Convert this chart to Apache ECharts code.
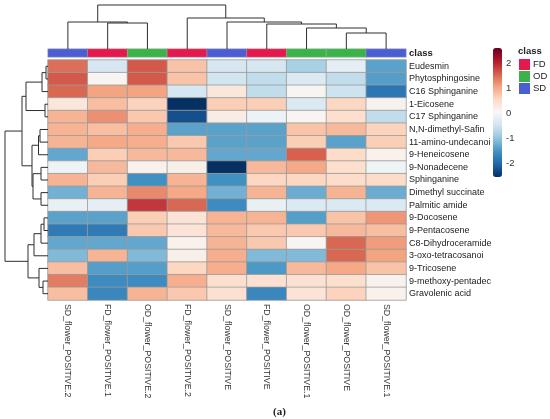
<!DOCTYPE html>
<html>
<head>
    <meta charset="utf-8"/>
    <title>Heatmap</title>
    <script src="https://cdn.jsdelivr.net/npm/echarts@6.0.0/dist/echarts.min.js"></script>
    <style>html, body { margin: 0; padding: 0; background: #fff; }</style>
</head>
<body>
<div id="main" style="width: 550px;height:419px;"></div>
<script type="text/javascript">
    // column samples, left to right (dendrogram order)
    var samples = ['SD_flower_POSITIVE.2', 'FD_flower_POSITIVE.1', 'OD_flower_POSITIVE.2', 'FD_flower_POSITIVE.2',
        'SD_flower_POSITIVE', 'FD_flower_POSITIVE', 'OD_flower_POSITIVE.1', 'OD_flower_POSITIVE', 'SD_flower_POSITIVE.1'];
    var sampleClass = ['SD', 'FD', 'OD', 'FD', 'SD', 'FD', 'OD', 'OD', 'SD'];
    var classNames = ['FD', 'OD', 'SD'];

    // metabolites, top to bottom
    var metabolites = ['Eudesmin', 'Phytosphingosine', 'C16 Sphinganine', '1-Eicosene', 'C17 Sphinganine',
        'N,N-dimethyl-Safin', '11-amino-undecanoi', '9-Heneicosene', '9-Nonadecene', 'Sphinganine',
        'Dimethyl succinate', 'Palmitic amide', '9-Docosene', '9-Pentacosene', 'C8-Dihydroceramide',
        '3-oxo-tetracosanoi', '9-Tricosene', '9-methoxy-pentadec', 'Gravolenic acid'];

    // scaled values per metabolite (one value per sample column)
    var vEudesmin        = [1.45, -0.45, 1.6, 0.75, -0.45, -0.45, -0.85, -0.25, -1.4];
    var vPhytosphingo    = [1.6, 0.05, 1.6, 0.75, -0.5, -0.65, -0.4, -0.65, -1.45];
    var vC16Sphinganine  = [1.5, 1.05, 1.05, -0.45, 0.3, -0.65, 0.05, -0.55, -1.9];
    var vEicosene        = [0.3, 0.8, 0.6, -2.6, 0.65, 0.65, -0.4, 0.55, 0.1];
    var vC17Sphinganine  = [0.9, 1.2, 0.7, -2.3, 0.2, -0.15, 0.05, 0.45, -0.65];
    var vDimethylSafin   = [0.9, 0.8, 0.95, -1.4, -1.4, -1.4, 0.75, 0.85, 0.6];
    var vAminoUndecanoi  = [0.9, 1.0, 0.95, 0.7, -1.4, -1.4, 0.65, -1.4, 0.65];
    var vHeneicosene     = [-1.35, 0.65, 0.85, 0.85, -1.35, -1.35, 1.55, 0.5, 0.12];
    var vNonadecene      = [-0.12, 0.85, 0.12, 0.15, -2.6, 0.85, 1.0, 0.45, -0.12];
    var vSphinganine     = [0.9, 0.65, -1.6, 0.9, -1.6, 0.55, 0.55, 0.5, 0.5];
    var vDimethylSucc    = [-1.25, 0.9, 1.25, 1.0, -1.25, 0.9, -1.3, 0.9, -1.3];
    var vPalmiticAmide   = [-0.2, -0.25, 1.85, 1.5, -1.65, -0.2, -0.4, -0.4, -0.4];
    var vDocosene        = [-1.4, -1.4, 0.65, 0.35, 0.9, 0.9, -1.45, 0.75, 1.15];
    var vPentacosene     = [-1.85, -1.85, 0.7, 0.35, 0.85, 0.7, 0.7, 0.85, 0.8];
    var vC8Dihydrocer    = [-1.35, -1.35, -1.35, 0.12, 0.9, 0.7, 0.05, 1.5, 1.1];
    var vOxoTetracosanoi = [-1.15, 0.9, -1.15, 0.15, 0.95, -1.15, -1.15, 1.5, 1.05];
    var vTricosene       = [0.8, -1.45, -1.45, 0.55, 0.95, -1.5, 0.85, 1.0, 0.75];
    var vMethoxyPentadec = [1.35, -1.65, -1.65, 0.95, 0.45, 0.4, 0.4, 0.45, 0.12];
    var vGravolenic      = [0.8, -1.7, 0.9, 0.7, 0.4, -1.7, 0.35, 0.6, 0.12];

    var rowValues = [vEudesmin, vPhytosphingo, vC16Sphinganine, vEicosene, vC17Sphinganine, vDimethylSafin,
        vAminoUndecanoi, vHeneicosene, vNonadecene, vSphinganine, vDimethylSucc, vPalmiticAmide, vDocosene,
        vPentacosene, vC8Dihydrocer, vOxoTetracosanoi, vTricosene, vMethoxyPentadec, vGravolenic];

    // hclust style merges: negative = leaf (1-based), positive = earlier merge; third = height
    var colMerges = [[-2, -3, 26], [-1, 1, 27], [-8, -9, 16], [-7, 3, 21], [-6, 4, 25], [-5, 5, 27], [-4, 6, 31], [2, 7, 44]];
    var rowMerges = [[-1, -2, 2], [1, -3, 6], [-4, -5, 3], [2, 3, 22], [-6, -7, 8], [5, -8, 9.5],
        [-9, -10, 7], [-11, -12, 7], [7, 8, 15], [6, 9, 16], [4, 10, 26],
        [-13, -14, 4], [12, -15, 7], [13, -16, 14], [-18, -19, 5], [-17, 15, 9], [14, 16, 20], [11, 17, 43]];

    // colour bar range
    var scaleMin = -2.6, scaleMax = 2.6;

    var classColors = {FD: '#E4194D', OD: '#3AB449', SD: '#4B5ED4'};
    var rdBu = ['#053061', '#2166ac', '#4393c3', '#92c5de', '#d1e5f0', '#f7f7f7',
        '#fddbc7', '#f4a582', '#d6604d', '#b2182b', '#67001f'];
    var FONT = "'Liberation Sans', Arial, sans-serif";

    function dendroLines(merges, swap) {
        var pos = [], hgt = [], out = [];
        function node(id) {
            return id < 0 ? {p: -id - 0.5, h: 0} : {p: pos[id - 1], h: hgt[id - 1]};
        }
        merges.forEach(function (m, k) {
            var a = node(m[0]), b = node(m[1]);
            var pts = [[a.p, a.h], [a.p, m[2]], [b.p, m[2]], [b.p, b.h]];
            if (swap) pts = pts.map(function (q) { return [q[1], q[0]]; });
            out.push({coords: pts});
            pos[k] = (a.p + b.p) / 2;
            hgt[k] = m[2];
        });
        return out;
    }

    var cells = [];
    rowValues.forEach(function (row, r) {
        row.forEach(function (v, c) { cells.push([c, r, v]); });
    });
    var classCells = sampleClass.map(function (s, c) { return [c, 0, classNames.indexOf(s)]; });

    var myChart = echarts.init(document.getElementById('main'));
    var lineStyle = {color: '#2e2e2e', width: 1, opacity: 1};
    var option = {
        animation: false,
        textStyle: {fontFamily: FONT},
        title: [{
            text: '(a)', left: 268, top: 402,
            textStyle: {fontFamily: "'Liberation Serif', serif", fontSize: 11, fontWeight: 'bold', color: '#222'}
        }, {
            text: 'class', left: 518, top: 46, padding: 0,
            textStyle: {fontFamily: FONT, fontSize: 9.5, fontWeight: 'bold', color: '#222'}
        }],
        grid: [
            {left: 48, top: 60, width: 358, height: 240},
            {left: 48, top: 49, width: 358, height: 8},
            {left: 48, top: 4, width: 358, height: 45},
            {left: 3, top: 60, width: 45, height: 240},
            {left: 493, top: 38, width: 9, height: 150}
        ],
        xAxis: [
            {type: 'category', gridIndex: 0, data: samples, axisLine: {show: false}, axisTick: {show: false},
                axisLabel: {rotate: -90, margin: 4, fontSize: 8.8, color: '#333', interval: 0}},
            {type: 'category', gridIndex: 1, data: samples, show: false},
            {type: 'value', gridIndex: 2, min: 0, max: samples.length, show: false},
            {type: 'value', gridIndex: 3, min: 0, max: 45, inverse: true, show: false},
            {type: 'value', gridIndex: 4, min: 0, max: 1, show: false}
        ],
        yAxis: [
            {type: 'category', gridIndex: 0, data: metabolites, inverse: true, position: 'right',
                axisLine: {show: false}, axisTick: {show: false},
                axisLabel: {margin: 3, fontSize: 9, color: '#222', interval: 0}},
            {type: 'category', gridIndex: 1, data: ['class'], position: 'right',
                axisLine: {show: false}, axisTick: {show: false},
                axisLabel: {margin: 3, fontSize: 9.5, fontWeight: 'bold', color: '#222'}},
            {type: 'value', gridIndex: 2, min: 0, max: 45, show: false},
            {type: 'value', gridIndex: 3, min: 0, max: metabolites.length, inverse: true, show: false},
            {type: 'value', gridIndex: 4, min: -3, max: 3, interval: 1, position: 'right',
                axisLine: {show: false}, axisTick: {show: false}, splitLine: {show: false},
                axisLabel: {margin: 4, fontSize: 9.5, color: '#333', showMinLabel: false, showMaxLabel: false}}
        ],
        visualMap: [{
            type: 'continuous', seriesIndex: 0, min: scaleMin, max: scaleMax,
            left: 493, top: 48, itemWidth: 9, itemHeight: 129, padding: 0,
            calculable: false, hoverLink: false, inRange: {color: rdBu}
        }, {
            type: 'piecewise', seriesIndex: 1, orient: 'vertical', inverse: true, align: 'left',
            left: 519, top: 59, itemWidth: 11, itemHeight: 11, itemGap: 1, textGap: 3, padding: 0,
            itemSymbol: 'rect', selectedMode: false, hoverLink: false,
            textStyle: {fontFamily: FONT, fontSize: 9.5, color: '#222'},
            pieces: classNames.map(function (n, i) {
                return {value: i, label: n, color: classColors[n], symbol: 'rect'};
            })
        }],
        series: [{
            type: 'heatmap', xAxisIndex: 0, yAxisIndex: 0, data: cells,
            itemStyle: {borderColor: '#9a9a9a', borderWidth: 0.8}
        }, {
            type: 'heatmap', xAxisIndex: 1, yAxisIndex: 1, data: classCells,
            itemStyle: {borderColor: '#b0b0b0', borderWidth: 0.5}
        }, {
            type: 'lines', coordinateSystem: 'cartesian2d', xAxisIndex: 2, yAxisIndex: 2,
            polyline: true, silent: true, lineStyle: lineStyle, data: dendroLines(colMerges, false)
        }, {
            type: 'lines', coordinateSystem: 'cartesian2d', xAxisIndex: 3, yAxisIndex: 3,
            polyline: true, silent: true, lineStyle: lineStyle, data: dendroLines(rowMerges, true)
        }, {
            type: 'scatter', xAxisIndex: 4, yAxisIndex: 4, data: []
        }]
    };
    myChart.setOption(option);
</script>
</body>
</html>
